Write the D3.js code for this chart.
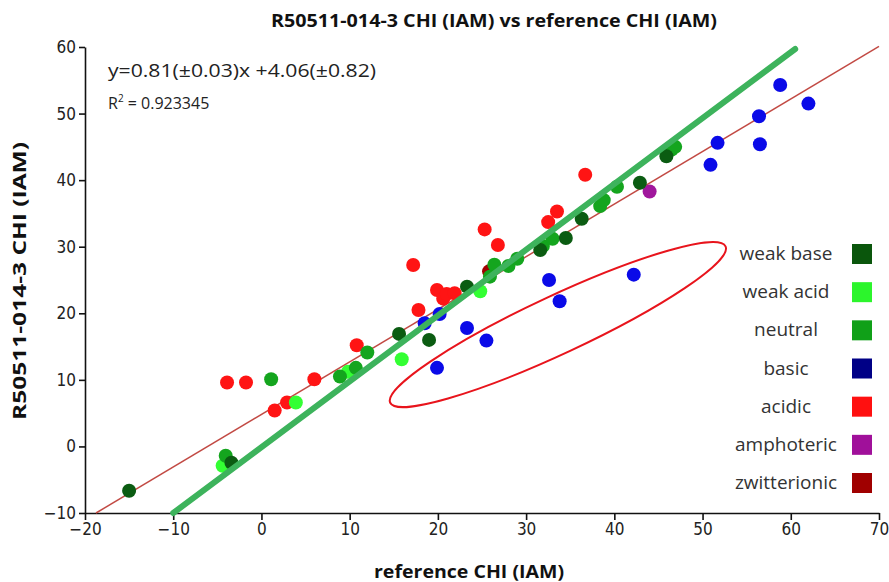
<!DOCTYPE html>
<html>
<head>
<meta charset="utf-8">
<script src="https://cdn.jsdelivr.net/npm/d3@7/dist/d3.min.js"></script>
<style>
  html, body { margin: 0; padding: 0; background: #fff; }
  svg { display: block; }
  .tick text { font-family: "Liberation Sans Narrow", "DejaVu Sans Condensed", "Open Sans", sans-serif; font-stretch: condensed; }
</style>
</head>
<body>
<svg id="chart" width="889" height="582"></svg>
<script>
// ---- data ----
const titleText = "R50511-014-3 CHI (IAM) vs reference CHI (IAM)";
const xLabel = "reference CHI (IAM)";
const yLabel = "R50511-014-3 CHI (IAM)";
const equationText = "y=0.81(\u00b10.03)x +4.06(\u00b10.82)";
const r2Value = "0.923345";

const xTicks = [-20, -10, 0, 10, 20, 30, 40, 50, 60, 70];
const yTicks = [-10, 0, 10, 20, 30, 40, 50, 60];

const categories = ["weak base", "weak acid", "neutral", "basic", "acidic", "amphoteric", "zwitterionic"];

const weakBase = [[-15.0,-6.65],[-3.4,-2.45],[15.6,16.9],[19.0,16.0],[23.3,24.0],[31.6,29.5],[34.5,31.3],[36.3,34.2],[42.9,39.6],[45.9,43.6]];
const weakAcid = [[-4.4,-2.9],[3.9,6.6],[9.8,11.2],[15.9,13.1],[24.8,23.3]];
const neutral = [[-4.05,-1.4],[1.1,10.1],[8.9,10.5],[10.7,11.8],[12.0,14.1],[25.9,25.5],[26.4,27.3],[28.0,27.1],[29.0,28.2],[31.9,30.1],[33.0,31.2],[38.4,36.1],[38.8,37.0],[40.3,39.0],[46.5,44.6],[46.9,45.0]];
const basic = [[18.5,18.5],[20.2,19.9],[19.9,11.8],[23.3,17.8],[25.5,15.9],[32.6,25.0],[33.8,21.8],[42.2,25.8],[50.9,42.3],[51.7,45.6],[56.4,49.6],[56.5,45.4],[58.8,54.3],[62.0,51.5]];
const acidic = [[-3.9,9.6],[-1.75,9.6],[1.5,5.4],[2.9,6.6],[6.0,10.1],[10.8,15.2],[17.2,27.25],[17.8,20.5],[19.9,23.5],[20.6,22.2],[21.0,22.9],[21.9,23.0],[25.3,32.6],[26.8,30.25],[32.5,33.7],[33.5,35.3],[36.7,40.8]];
const amphoteric = [[44.0,38.3]];
const zwitterionic = [[25.8,26.3]];

const fitLine = [[-18.75,-10],[70,60.1]];
const identityLine = [[-10,-10],[60.5,59.7]];
const ellipseCenter = [33.6, 18.3];

// ---- styling ----
const dotColors = {"weak base":"#0b5c12","weak acid":"#33ff33","neutral":"#14a51e","basic":"#0a0ae8","acidic":"#ff1414","amphoteric":"#a0179c","zwitterionic":"#a00000"};
const legendColors = {"weak base":"#0a560c","weak acid":"#2cf52c","neutral":"#10a018","basic":"#000086","acidic":"#ff1010","amphoteric":"#a0109a","zwitterionic":"#a00000"};
const seriesData = {"weak base":weakBase,"weak acid":weakAcid,"neutral":neutral,"basic":basic,"acidic":acidic,"amphoteric":amphoteric,"zwitterionic":zwitterionic};
const drawOrder = ["zwitterionic","acidic","basic","amphoteric","weak acid","neutral","weak base"];

const svg = d3.select("#chart");
const x = d3.scaleLinear().domain([-20, 70]).range([85, 879]);
const y = d3.scaleLinear().domain([-10, 60]).range([513, 47]);

// axes
const xAxis = svg.append("g").attr("transform", `translate(0,${y(-10)})`)
  .call(d3.axisBottom(x).tickValues(xTicks).tickSize(7).tickSizeOuter(0).tickPadding(3));
const yAxis = svg.append("g").attr("transform", `translate(${x(-20)},0)`)
  .call(d3.axisLeft(y).tickValues(yTicks).tickSize(6).tickSizeOuter(0).tickPadding(3));
[xAxis, yAxis].forEach(g => {
  g.selectAll(".domain").attr("stroke", "#111").attr("stroke-width", 1.6);
  g.selectAll(".tick line").attr("stroke", "#111").attr("stroke-width", 1.6);
  g.selectAll(".tick text").attr("font-size", 17).attr("fill", "#222");
});

// fit line (under points)
const line = d3.line().x(d => x(d[0])).y(d => y(d[1]));
svg.append("path").datum(fitLine).attr("d", line)
  .attr("fill", "none").attr("stroke", "#c24a44").attr("stroke-width", 1.5);

// points
drawOrder.forEach(cat => {
  svg.append("g").selectAll("circle").data(seriesData[cat]).join("circle")
    .attr("cx", d => x(d[0])).attr("cy", d => y(d[1])).attr("r", 7)
    .attr("fill", dotColors[cat]);
});

// identity line (over points)
svg.append("path").datum(identityLine).attr("d", line)
  .attr("fill", "none").attr("stroke", "#3db35c").attr("stroke-width", 6)
  .attr("stroke-linecap", "round");

// ellipse annotation
svg.append("ellipse")
  .attr("transform", `translate(${x(ellipseCenter[0])},${y(ellipseCenter[1])}) rotate(-25)`)
  .attr("rx", 185).attr("ry", 29)
  .attr("fill", "none").attr("stroke", "#e8141c").attr("stroke-width", 2);

// title
svg.append("text").attr("x", 494).attr("y", 27).attr("text-anchor", "middle")
  .attr("font-family", "Open Sans, sans-serif").attr("font-weight", "bold").attr("font-size", 18)
  .attr("textLength", 446).attr("lengthAdjust", "spacingAndGlyphs")
  .attr("fill", "#111").text(titleText);

// axis labels
svg.append("text").attr("x", 469).attr("y", 578).attr("text-anchor", "middle")
  .attr("font-family", "Open Sans, sans-serif").attr("font-weight", "bold").attr("font-size", 18)
  .attr("textLength", 190).attr("lengthAdjust", "spacingAndGlyphs")
  .attr("fill", "#111").text(xLabel);
svg.append("text").attr("transform", "translate(26,281) rotate(-90)").attr("text-anchor", "middle")
  .attr("font-family", "Open Sans, sans-serif").attr("font-weight", "bold").attr("font-size", 18)
  .attr("textLength", 278).attr("lengthAdjust", "spacingAndGlyphs")
  .attr("fill", "#111").text(yLabel);

// equation & r2
svg.append("text").attr("x", 108).attr("y", 77)
  .attr("font-family", "Open Sans, sans-serif").attr("font-size", 19).attr("fill", "#222")
  .attr("textLength", 268).attr("lengthAdjust", "spacingAndGlyphs")
  .text(equationText);
const r2 = svg.append("text").attr("x", 108).attr("y", 109)
  .attr("font-family", "Open Sans, sans-serif").attr("font-size", 16).attr("fill", "#222");
r2.append("tspan").text("R");
r2.append("tspan").attr("dy", -7).attr("font-size", 10).text("2");
r2.append("tspan").attr("dy", 7).text(" = " + r2Value);

// legend
const legendY = d3.scalePoint().domain(categories).range([254, 483]);
const leg = svg.append("g");
categories.forEach(cat => {
  leg.append("rect").attr("x", 852).attr("y", legendY(cat) - 10).attr("width", 20).attr("height", 20)
    .attr("fill", legendColors[cat]);
  leg.append("text").attr("x", 786).attr("y", legendY(cat) + 6).attr("text-anchor", "middle")
    .attr("font-family", "Open Sans, sans-serif").attr("font-size", 19).attr("fill", "#333")
    .text(cat);
});
</script>
</body>
</html>
